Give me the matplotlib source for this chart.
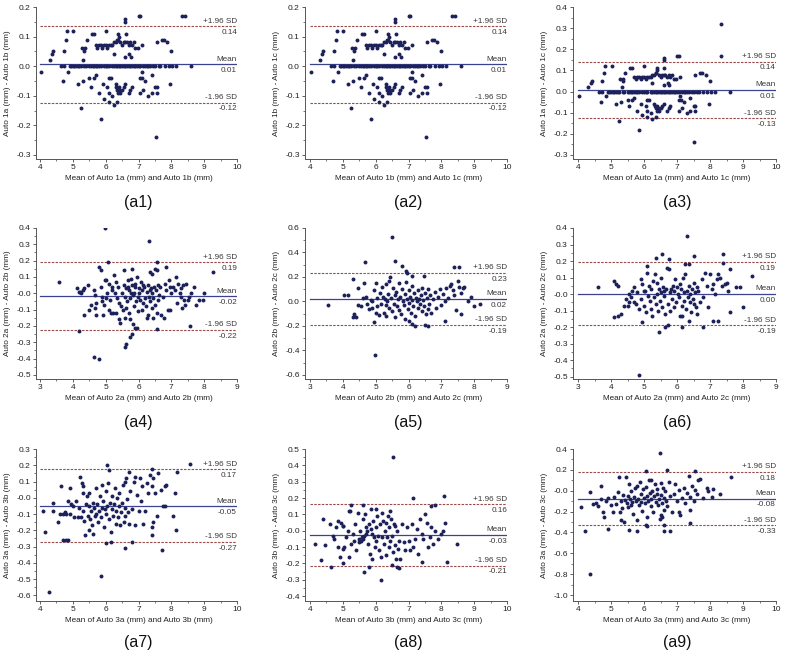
import numpy as np
import matplotlib.pyplot as plt
from matplotlib.ticker import MultipleLocator, AutoMinorLocator, FormatStrFormatter

plt.rcParams['font.family'] = ['Liberation Sans', 'DejaVu Sans']

# ---- data (mean, difference) ----
a1_pts = [
    (7.00, 0.17), (7.05, 0.17), (8.32, 0.17), (8.43, 0.17), (6.60, 0.16), (6.60, 0.15),
    (4.81, 0.12), (5.02, 0.12), (6.00, 0.12), (5.58, 0.11), (5.65, 0.11), (6.39, 0.11),
    (6.62, 0.11), (6.40, 0.10), (4.80, 0.09), (5.42, 0.09), (7.71, 0.09), (7.77, 0.09),
    (6.37, 0.09), (7.56, 0.08), (7.87, 0.08), (7.10, 0.07),
    (5.70, 0.07), (5.75, 0.06), (5.80, 0.07), (5.85, 0.07), (5.90, 0.06), (5.95, 0.07),
    (6.00, 0.07), (6.05, 0.06), (6.10, 0.07), (6.15, 0.07), (6.20, 0.07), (6.25, 0.08),
    (6.30, 0.08), (6.35, 0.09), (6.45, 0.08), (6.50, 0.07), (6.55, 0.08), (6.60, 0.08),
    (6.65, 0.08), (6.70, 0.07), (6.75, 0.08), (6.80, 0.07), (6.85, 0.08), (6.90, 0.06),
    (6.97, 0.06), (5.27, 0.06), (5.35, 0.05), (5.37, 0.06), (4.41, 0.05), (4.74, 0.05),
    (7.99, 0.05), (4.38, 0.04), (6.25, 0.04), (6.72, 0.04), (6.60, 0.03), (6.76, 0.03),
    (4.31, 0.02), (5.32, 0.02),
    (4.65, 0.0), (4.72, 0.0), (4.90, 0.0), (4.95, 0.0), (5.00, 0.0), (5.05, 0.0),
    (5.10, 0.0), (5.15, 0.0), (5.20, 0.0), (5.25, 0.0), (5.35, 0.0), (5.40, 0.0),
    (5.50, 0.0), (5.55, 0.0), (5.60, 0.0), (5.65, 0.0), (5.70, 0.0), (5.75, 0.0),
    (5.80, 0.0), (5.85, 0.0), (5.95, 0.0), (6.00, 0.0), (6.05, 0.0), (6.10, 0.0),
    (6.20, 0.0), (6.25, 0.0), (6.30, 0.0), (6.35, 0.0), (6.40, 0.0), (6.45, 0.0),
    (6.50, 0.0), (6.55, 0.0), (6.60, 0.0), (6.65, 0.0), (6.70, 0.0), (6.75, 0.0),
    (6.80, 0.0), (6.85, 0.0), (6.90, 0.0), (6.95, 0.0), (7.00, 0.0), (7.05, 0.0),
    (7.15, 0.0), (7.20, 0.0), (7.25, 0.0), (7.30, 0.0), (7.35, 0.0), (7.45, 0.0),
    (7.50, 0.0), (7.62, 0.0), (7.67, 0.0), (7.80, 0.0), (7.92, 0.0), (8.02, 0.0),
    (8.15, 0.0), (8.61, 0.0),
    (4.03, -0.02), (4.86, -0.02), (7.10, -0.02), (5.70, -0.03), (5.65, -0.04), (7.40, -0.03),
    (5.50, -0.04), (6.10, -0.04), (6.15, -0.04), (7.05, -0.04), (7.12, -0.04), (4.70, -0.05),
    (5.30, -0.05), (7.20, -0.05), (5.15, -0.06), (7.97, -0.06), (5.92, -0.06), (6.05, -0.07),
    (5.55, -0.07), (6.80, -0.07), (7.50, -0.07), (7.56, -0.07), (7.15, -0.08), (6.75, -0.08),
    (5.80, -0.09), (6.10, -0.09), (7.05, -0.09), (7.40, -0.09), (7.56, -0.09), (6.70, -0.09),
    (6.20, -0.10), (7.30, -0.10), (5.95, -0.11), (6.10, -0.12), (6.35, -0.12), (6.25, -0.13),
    (5.25, -0.14), (5.85, -0.18), (7.52, -0.24),
    (6.30, -0.06), (6.32, -0.07), (6.35, -0.08), (6.38, -0.09), (6.40, -0.07), (6.42, -0.08),
    (6.45, -0.09), (6.50, -0.08), (6.55, -0.07), (6.60, -0.06),
]

a2_pts = list(a1_pts)

a3_pts = [p for p in a1_pts if p != (8.43, 0.17)] + [(8.32, 0.32)]

a4_pts = [
    (3.59, 0.07), (4.98, 0.40), (6.32, 0.32), (4.65, -0.39), (4.80, -0.40), (5.60, -0.33),
    (5.63, -0.31), (5.73, -0.27), (5.80, -0.25), (5.89, -0.21), (5.96, -0.21), (4.20, -0.23),
    (6.55, -0.22), (7.58, -0.20), (5.08, 0.19), (6.57, 0.19), (8.27, 0.13), (4.80, 0.16),
    (4.85, 0.14), (6.35, 0.13), (6.40, 0.12), (6.50, 0.15), (6.55, 0.14), (6.85, 0.16),
    (5.55, 0.14), (5.80, 0.15), (7.15, 0.10),
    (4.12, 0.03), (4.20, 0.01), (4.25, 0.0), (4.30, 0.02), (4.35, 0.03), (4.45, 0.05),
    (4.50, -0.10), (4.55, -0.07), (4.35, -0.13), (4.22, 0.01),
    (4.65, 0.02), (4.67, -0.01), (4.68, -0.09), (4.70, -0.13), (4.72, -0.06), (4.85, 0.04),
    (4.90, -0.02), (4.92, -0.13), (4.95, -0.07), (4.97, 0.08), (5.00, 0.08), (4.88, -0.05),
    (5.02, -0.03), (5.05, 0.0), (5.10, -0.10), (5.12, -0.04), (5.15, -0.12), (5.20, 0.02),
    (5.22, -0.12), (5.25, 0.11), (5.28, 0.0), (5.30, -0.12), (5.32, 0.07), (5.35, -0.03),
    (5.38, 0.04), (5.40, -0.06), (5.42, -0.16), (5.45, -0.18), (5.48, -0.08), (5.50, 0.0),
    (5.52, -0.10), (5.20, 0.04), (5.10, 0.06),
    (5.55, 0.05), (5.58, -0.02), (5.60, -0.15), (5.62, 0.03), (5.65, -0.05), (5.68, 0.08),
    (5.70, -0.12), (5.72, 0.02), (5.75, -0.03), (5.78, 0.09), (5.80, 0.05), (5.82, -0.01),
    (5.85, -0.08), (5.87, 0.0), (5.90, 0.04), (5.92, -0.05), (5.95, 0.10), (5.97, -0.02),
    (6.00, 0.03), (5.63, -0.09), (5.73, -0.16), (5.83, -0.19), (5.88, 0.06), (5.98, -0.11),
    (5.67, 0.04), (5.76, 0.0),
    (6.02, 0.0), (6.05, -0.04), (6.08, 0.07), (6.10, -0.10), (6.12, 0.02), (6.15, -0.06),
    (6.18, 0.04), (6.20, -0.03), (6.22, -0.08), (6.25, 0.01), (6.28, -0.13), (6.30, 0.05),
    (6.32, -0.02), (6.35, -0.05), (6.38, 0.03), (6.40, -0.09), (6.42, 0.0), (6.45, -0.03),
    (6.48, 0.04), (6.50, -0.07), (6.15, 0.05), (6.27, -0.15), (6.43, -0.15), (6.35, 0.02),
    (6.52, 0.02), (6.55, -0.12), (6.58, 0.05), (6.60, -0.04), (6.62, -0.01), (6.65, 0.04),
    (6.70, -0.13), (6.75, -0.02), (6.78, -0.15), (6.80, 0.06), (6.85, 0.02), (6.90, -0.10),
    (6.92, 0.08), (6.95, 0.04), (6.97, -0.10), (7.00, 0.0),
    (7.05, 0.04), (7.10, 0.02), (7.18, -0.06), (7.20, 0.06), (7.25, 0.0), (7.30, -0.02),
    (7.32, -0.09), (7.35, 0.05), (7.40, -0.04), (7.45, 0.06), (7.50, -0.04), (7.55, -0.02),
    (7.60, 0.0), (7.70, 0.04), (7.75, -0.07), (7.85, -0.04), (7.95, -0.04), (8.00, 0.0),
    (7.42, -0.07), (7.28, 0.03),
]

a5_pts = [
    (5.50, 0.53), (4.98, -0.44), (3.55, -0.03), (4.68, 0.32), (5.58, 0.33), (5.79, 0.29),
    (5.93, 0.25), (5.96, 0.23), (7.38, 0.28), (7.53, 0.28), (6.47, 0.21), (6.12, 0.21),
    (8.19, -0.02), (8.00, -0.04), (7.59, -0.10), (7.10, -0.16), (6.10, -0.18), (6.20, -0.20),
    (6.50, -0.19), (6.60, -0.20), (4.95, -0.17), (4.30, -0.13), (4.35, -0.10), (4.40, -0.13),
    (4.05, 0.05), (4.15, 0.05), (4.30, 0.18),
    (4.45, 0.11), (4.65, 0.15), (4.60, 0.03), (4.70, 0.04), (4.75, -0.02), (4.80, -0.06),
    (4.85, 0.01), (4.90, -0.05), (4.95, 0.09), (5.00, 0.15), (5.02, -0.09), (5.05, 0.03),
    (5.10, -0.11), (5.12, 0.07), (5.15, -0.02), (5.20, 0.12), (5.22, 0.04), (5.25, -0.09),
    (5.28, 0.02), (5.30, 0.14), (5.32, -0.12), (5.35, 0.0), (5.38, 0.06), (5.40, 0.17),
    (5.42, -0.05), (5.45, 0.20), (5.48, 0.03), (5.50, -0.08), (5.52, 0.11), (5.55, -0.02),
    (5.58, 0.05), (5.60, -0.13), (5.62, 0.08), (5.65, -0.04), (5.68, 0.02), (5.70, 0.15),
    (5.72, -0.07), (5.75, 0.04), (5.78, -0.10), (5.80, 0.10), (5.82, 0.0), (5.85, -0.03),
    (5.88, 0.06), (5.90, -0.14), (5.92, 0.16), (5.95, 0.02), (5.98, -0.06), (6.00, 0.09),
    (6.02, -0.01), (6.05, 0.04), (6.08, -0.09), (6.10, 0.13), (6.12, 0.01), (6.15, -0.04),
    (6.18, 0.07), (6.20, -0.12), (6.22, 0.03), (6.25, 0.0), (6.28, -0.05), (6.30, 0.09),
    (6.32, 0.02), (6.35, -0.02), (6.38, 0.05), (6.40, -0.08), (6.42, 0.11), (6.45, 0.01),
    (6.48, -0.04), (6.50, 0.07), (6.52, -0.10), (6.55, 0.03), (6.58, -0.06), (6.60, 0.10),
    (6.62, -0.02), (6.65, 0.05), (6.70, -0.09), (6.75, 0.02), (6.80, 0.08), (6.85, -0.05),
    (6.90, 0.04), (6.95, 0.10), (7.00, -0.03), (7.05, 0.06), (7.10, 0.0), (7.15, 0.11),
    (7.20, 0.03), (7.25, 0.13), (7.30, 0.14), (7.35, 0.09), (7.40, 0.05), (7.45, -0.07),
    (7.50, 0.17), (7.55, 0.12), (7.60, 0.07), (7.65, 0.11), (7.70, 0.12), (7.80, 0.0),
    (7.90, 0.04), (5.05, -0.04), (4.90, 0.0), (4.55, -0.04), (4.45, -0.03), (5.30, -0.03),
    (6.00, -0.16),
]

a6_pts = [
    (6.31, 0.35), (4.85, -0.49), (3.60, 0.04), (8.27, 0.11), (7.99, -0.08), (7.60, -0.11),
    (7.10, -0.16), (7.25, -0.16), (6.80, -0.20), (6.15, -0.20), (5.65, -0.20), (5.72, -0.19),
    (5.45, -0.23), (4.93, -0.17), (4.10, -0.14), (4.22, -0.13), (4.30, -0.12), (4.40, -0.07),
    (4.10, 0.08), (4.15, 0.06), (4.22, 0.05), (5.55, 0.24), (5.35, 0.22), (5.75, 0.21),
    (5.10, 0.17), (6.25, 0.18), (6.35, 0.18), (6.50, 0.23), (7.40, 0.24), (7.40, 0.19),
    (7.62, 0.15), (7.80, 0.04), (7.90, 0.04),
    (4.45, -0.03), (4.50, -0.07), (4.55, -0.05), (4.60, -0.02), (4.65, 0.02), (4.70, 0.04),
    (4.75, -0.06), (4.80, 0.01), (4.85, -0.09), (4.90, 0.09), (4.92, -0.03), (4.95, 0.06),
    (5.00, -0.07), (5.02, 0.02), (5.05, -0.11), (5.10, 0.13), (5.12, -0.01), (5.15, 0.05),
    (5.18, -0.04), (5.20, -0.09), (5.22, 0.03), (5.25, -0.13), (5.28, 0.08), (5.30, -0.02),
    (5.32, 0.12), (5.35, -0.06), (5.38, 0.0), (5.40, 0.07), (5.42, -0.10), (5.45, 0.03),
    (5.48, -0.04), (5.50, 0.10), (5.52, 0.01), (5.55, -0.08), (5.58, 0.04), (5.60, -0.01),
    (5.62, 0.02), (5.65, -0.12), (5.68, 0.03), (5.70, 0.16), (5.72, -0.06), (5.75, 0.15),
    (5.78, 0.01), (5.80, -0.10), (5.82, 0.03), (5.85, -0.03), (5.88, 0.05), (5.90, -0.08),
    (5.92, 0.02), (5.95, 0.09), (5.98, -0.05), (6.00, 0.04), (6.02, 0.0), (6.05, -0.02),
    (6.08, 0.06), (6.10, -0.13), (6.12, 0.03), (6.15, -0.07), (6.18, 0.10), (6.20, 0.01),
    (6.22, -0.04), (6.25, 0.12), (6.28, -0.09), (6.30, 0.02), (6.32, -0.02), (6.35, 0.05),
    (6.38, -0.05), (6.40, 0.0), (6.42, -0.11), (6.45, 0.03), (6.48, -0.03), (6.50, 0.07),
    (6.52, -0.06), (6.55, 0.01), (6.58, -0.08), (6.60, 0.04), (6.62, -0.12), (6.65, 0.02),
    (6.70, -0.05), (6.75, 0.09), (6.80, -0.02), (6.85, 0.13), (6.90, 0.05), (6.95, -0.08),
    (7.00, 0.12), (7.05, 0.03), (7.10, 0.06), (7.15, 0.0), (7.20, 0.09), (7.25, 0.12),
    (7.30, 0.10), (7.35, 0.05), (7.45, 0.06), (7.50, 0.07), (7.55, 0.02), (6.35, -0.16),
    (6.15, -0.13), (4.70, -0.05), (5.00, 0.02), (4.55, 0.0),
]

a7_pts = [
    (4.28, -0.58), (5.87, -0.48), (8.58, 0.21), (8.18, 0.16), (7.72, -0.32), (6.58, -0.31),
    (6.00, -0.28), (6.15, -0.27), (6.80, -0.27), (4.70, -0.26), (4.78, -0.26), (4.86, -0.26),
    (4.15, -0.21), (4.55, -0.15), (4.10, -0.08), (4.40, -0.08), (4.40, -0.03), (7.40, -0.23),
    (8.15, -0.20), (8.05, -0.11), (8.10, 0.03), (7.40, 0.18), (6.05, 0.20), (6.10, 0.17),
    (4.65, 0.07),
    (4.60, -0.10), (4.70, -0.10), (4.75, -0.09), (4.80, -0.10), (4.85, -0.02), (4.90, -0.10),
    (4.92, 0.06), (4.95, -0.04), (5.00, -0.05), (5.05, -0.12), (5.10, -0.02), (5.15, -0.12),
    (5.20, -0.06), (5.22, 0.13), (5.25, -0.12), (5.28, 0.09), (5.30, 0.03), (5.32, -0.08),
    (5.35, -0.14), (5.38, -0.23), (5.40, -0.04), (5.42, 0.01), (5.45, -0.11), (5.48, -0.05),
    (5.50, 0.03), (5.52, -0.13), (5.55, -0.08), (5.58, -0.17), (5.60, -0.03), (5.62, -0.22),
    (5.65, -0.06), (5.68, -0.11), (5.70, 0.06), (5.72, -0.10), (5.75, -0.04), (5.78, -0.15),
    (5.80, -0.08), (5.82, 0.01), (5.85, -0.12), (5.88, -0.06), (5.90, 0.08), (5.92, -0.02),
    (5.95, -0.18), (5.98, -0.07), (6.00, 0.04), (6.02, -0.10), (6.05, -0.05), (6.08, 0.09),
    (6.10, -0.13), (6.12, -0.03), (6.15, -0.21), (6.18, -0.07), (6.20, 0.01), (6.22, -0.11),
    (6.25, -0.04), (6.28, 0.06), (6.30, -0.16), (6.32, -0.08), (6.35, 0.0), (6.38, -0.12),
    (6.40, -0.05), (6.42, 0.03), (6.45, -0.17), (6.48, -0.09), (6.50, -0.03), (6.52, 0.08),
    (6.55, -0.15), (6.58, -0.06), (6.60, -0.11), (6.62, 0.12), (6.65, -0.01), (6.68, -0.09),
    (6.70, 0.16), (6.72, -0.16), (6.75, 0.04), (6.80, -0.07), (6.85, 0.10), (6.90, -0.17),
    (6.95, 0.02), (7.00, -0.08), (7.05, 0.12), (7.08, -0.02), (7.10, 0.07), (7.15, -0.16),
    (7.20, -0.08), (7.25, 0.09), (7.30, 0.03), (7.35, 0.14), (7.40, -0.18), (7.42, 0.07),
    (7.45, -0.15), (7.50, 0.03), (7.55, -0.11), (7.60, 0.15), (7.70, 0.05), (7.75, -0.05),
    (7.80, 0.07), (7.85, 0.08), (7.82, -0.05), (5.30, 0.07), (6.60, 0.10), (7.45, 0.12),
    (5.50, -0.20), (6.90, 0.13),
]

a8_pts = [
    (6.53, 0.45), (7.13, 0.20), (8.09, 0.21), (8.48, -0.08), (8.16, -0.19), (6.17, -0.30),
    (5.65, -0.25), (5.81, -0.22), (6.50, -0.21), (6.65, -0.22), (6.72, -0.23), (5.00, -0.20),
    (4.65, -0.22), (4.35, -0.18), (4.15, -0.08), (4.45, -0.09), (4.40, 0.07), (7.40, -0.19),
    (7.70, 0.15), (7.80, 0.16), (5.25, 0.16), (5.60, 0.16), (5.20, 0.12), (5.85, 0.13),
    (4.60, 0.04), (4.70, -0.03), (4.72, -0.05), (4.80, 0.02), (4.85, 0.06), (4.90, -0.16),
    (4.95, 0.05), (5.00, -0.11), (5.02, 0.03), (5.05, -0.10), (5.10, -0.04), (5.15, 0.0),
    (5.20, -0.16), (5.22, 0.12), (5.25, -0.08), (5.30, -0.02), (5.35, -0.06), (5.38, 0.04),
    (5.40, -0.12), (5.45, 0.11), (5.48, -0.05), (5.50, -0.07), (5.52, 0.0), (5.55, -0.06),
    (5.58, -0.04), (5.60, 0.07), (5.62, -0.05), (5.65, -0.03), (5.68, 0.10), (5.70, -0.02),
    (5.72, 0.02), (5.75, 0.0), (5.78, -0.08), (5.80, 0.04), (5.82, -0.14), (5.85, 0.01),
    (5.88, -0.02), (5.90, -0.17), (5.92, 0.06), (5.95, -0.04), (5.98, -0.10), (6.00, 0.02),
    (6.02, -0.06), (6.05, 0.09), (6.08, -0.03), (6.10, -0.12), (6.12, 0.04), (6.15, -0.16),
    (6.18, 0.11), (6.20, -0.04), (6.22, 0.06), (6.25, -0.08), (6.28, 0.0), (6.30, -0.15),
    (6.32, 0.05), (6.35, -0.04), (6.38, 0.09), (6.40, -0.10), (6.42, 0.02), (6.45, -0.06),
    (6.48, 0.07), (6.50, -0.03), (6.52, -0.13), (6.55, 0.04), (6.58, -0.09), (6.60, 0.03),
    (6.62, -0.17), (6.65, 0.0), (6.68, -0.11), (6.70, -0.06), (6.75, -0.17), (6.80, 0.04),
    (6.85, -0.07), (6.90, -0.12), (6.95, 0.02), (7.00, -0.06), (7.05, -0.12), (7.10, 0.04),
    (7.15, -0.10), (7.20, -0.05), (7.25, 0.01), (7.30, -0.14), (7.35, 0.07), (7.40, -0.02),
    (7.45, -0.05), (7.50, 0.10), (7.55, 0.05), (7.60, -0.10), (7.65, -0.04), (7.70, 0.02),
    (7.75, -0.08), (7.80, 0.0), (7.90, -0.05), (8.00, -0.02), (8.05, 0.0), (8.10, 0.05),
    (4.85, -0.10), (5.00, 0.03), (6.00, 0.13), (6.45, 0.12),
]

a9_pts = [
    (4.37, -0.80), (6.47, 0.36), (8.63, 0.13), (4.10, -0.16), (4.22, -0.39), (4.35, -0.01),
    (4.90, -0.37), (5.55, -0.38), (5.80, -0.39), (6.62, -0.39), (6.80, -0.39), (6.05, 0.19),
    (6.70, 0.20), (7.55, 0.19), (6.05, -0.33), (6.60, -0.33), (7.40, -0.31), (6.50, -0.23),
    (6.08, -0.34),
    (4.45, -0.13), (4.55, -0.12), (4.60, -0.15), (4.70, -0.08), (4.70, 0.05), (4.75, -0.20),
    (4.80, -0.25), (4.85, -0.10), (4.90, -0.07), (5.00, -0.14), (5.05, -0.20), (5.10, -0.06),
    (5.15, -0.13), (5.20, -0.01), (5.25, 0.13), (5.28, -0.20), (5.30, -0.10), (5.32, -0.17),
    (5.35, -0.04), (5.40, -0.30), (5.42, -0.09), (5.45, 0.13), (5.48, -0.12), (5.50, -0.05),
    (5.52, -0.16), (5.55, 0.06), (5.58, -0.08), (5.60, -0.14), (5.62, 0.0), (5.65, -0.11),
    (5.68, -0.22), (5.70, -0.06), (5.72, 0.03), (5.75, -0.10), (5.78, -0.28), (5.80, 0.05),
    (5.82, -0.08), (5.85, -0.14), (5.88, 0.08), (5.90, -0.03), (5.92, -0.11), (5.95, -0.19),
    (5.98, 0.02), (6.00, -0.07), (6.02, -0.12), (6.05, 0.04), (6.08, -0.05), (6.10, -0.25),
    (6.12, -0.10), (6.15, 0.10), (6.18, -0.02), (6.20, -0.15), (6.22, -0.08), (6.25, 0.0),
    (6.28, -0.20), (6.30, -0.05), (6.32, 0.06), (6.35, -0.11), (6.38, -0.03), (6.40, 0.02),
    (6.42, -0.14), (6.45, -0.08), (6.48, -0.27), (6.50, 0.07), (6.52, -0.04), (6.55, -0.12),
    (6.58, 0.03), (6.60, -0.18), (6.62, -0.07), (6.65, 0.0), (6.68, -0.10), (6.70, -0.15),
    (6.75, 0.08), (6.80, -0.05), (6.85, -0.20), (6.90, -0.03), (6.95, 0.06), (7.00, -0.10),
    (7.05, 0.01), (7.10, -0.23), (7.15, -0.07), (7.20, 0.03), (7.25, -0.12), (7.30, -0.02),
    (7.35, 0.14), (7.38, -0.18), (7.40, -0.06), (7.45, 0.05), (7.50, -0.10), (7.55, 0.01),
    (7.60, -0.03), (7.65, 0.10), (7.70, 0.11), (7.80, -0.07), (7.90, 0.03), (7.95, 0.0),
    (8.05, -0.06), (8.10, 0.02), (8.30, -0.03), (6.55, -0.25), (5.30, -0.28), (6.20, 0.10),
    (7.05, -0.20),
]

panel_points = [a1_pts, a2_pts, a3_pts, a4_pts, a5_pts, a6_pts, a7_pts, a8_pts, a9_pts]
panel_names = ['(a1)', '(a2)', '(a3)', '(a4)', '(a5)', '(a6)', '(a7)', '(a8)', '(a9)']
pairs = [('1a', '1b'), ('1b', '1c'), ('1a', '1c'),
         ('2a', '2b'), ('2b', '2c'), ('2a', '2c'),
         ('3a', '3b'), ('3b', '3c'), ('3a', '3c')]

# limits of agreement (line positions) and the printed values
upper_loa = [0.135, 0.135, 0.142, 0.189, 0.234, 0.194, 0.174, 0.162, 0.180]
mean_diff = [0.006, 0.006, 0.008, -0.019, 0.022, 0.002, -0.052, -0.027, -0.076]
lower_loa = [-0.123, -0.123, -0.127, -0.224, -0.190, -0.190, -0.272, -0.214, -0.332]
upper_txt = ['0.14', '0.14', '0.14', '0.19', '0.23', '0.19', '0.17', '0.16', '0.18']
mean_txt = ['0.01', '0.01', '0.01', '-0.02', '0.02', '0.00', '-0.05', '-0.03', '-0.08']
lower_txt = ['-0.12', '-0.12', '-0.13', '-0.22', '-0.19', '-0.19', '-0.27', '-0.21', '-0.33']

x_ranges = [(4, 10), (4, 10), (4, 10), (3, 9), (3, 9), (3, 9), (4, 10), (4, 10), (4, 10)]
y_ticks = [(-0.3, 0.2, 0.1), (-0.3, 0.2, 0.1), (-0.3, 0.4, 0.1),
           (-0.5, 0.4, 0.1), (-0.6, 0.6, 0.2), (-0.5, 0.4, 0.1),
           (-0.6, 0.3, 0.1), (-0.4, 0.5, 0.1), (-1.0, 0.4, 0.2)]
y_bottom = [-0.314, -0.314, -0.319, -0.525, -0.633, -0.514, -0.635, -0.43, -1.057]

# ---- layout in pixels ----
W, H = 785, 651
col_px = [(36, 40, 237), (305, 310, 507), (573, 578, 776)]   # spine, x-lo, x-hi
row_px = [(7, 159), (228, 379), (449, 601)]                  # top tick, x axis
xlabel_y = [178, 398, 620]
caption_y = [202, 422, 642]

dot_col = '#1c2159'
mean_col = '#3b4290'
sd_col = '#9b4a4a'
txt_col = '#3a3a3a'
fs = 5.9

fig = plt.figure(figsize=(W / 100, H / 100), dpi=100)

for i, pts in enumerate(panel_points):
    r, c = divmod(i, 3)
    spine, xlo_px, xhi_px = col_px[c]
    top, bot = row_px[r]
    ax = fig.add_axes([spine / W, 1 - bot / H, (xhi_px - spine) / W, (bot - top) / H])

    xlo, xhi = x_ranges[i]
    ppu = (xhi_px - xlo_px) / (xhi - xlo)
    ax.set_xlim(xlo - (xlo_px - spine) / ppu, xhi)
    ylo, yhi, ystep = y_ticks[i]
    ax.set_ylim(y_bottom[i], yhi)

    xs, ys = zip(*pts)
    ax.scatter(xs, ys, s=8, color=dot_col, linewidths=0, zorder=3)

    ax.plot([xlo, xhi], [mean_diff[i]] * 2, color=mean_col, lw=0.9, zorder=2)
    for v in (upper_loa[i], lower_loa[i]):
        ax.plot([xlo, xhi], [v, v], color=sd_col, lw=0.8, ls=(0, (2.2, 1.2)), zorder=2)

    for v, top_lbl, val in ((upper_loa[i], '+1.96 SD', upper_txt[i]),
                            (mean_diff[i], 'Mean', mean_txt[i]),
                            (lower_loa[i], '-1.96 SD', lower_txt[i])):
        ax.annotate(top_lbl, (xhi, v), xytext=(0, 1.2), textcoords='offset points',
                    ha='right', va='bottom', fontsize=fs, color=txt_col)
        ax.annotate(val, (xhi, v), xytext=(0, -2.0), textcoords='offset points',
                    ha='right', va='top', fontsize=fs, color=txt_col)

    ax.set_xticks(np.arange(xlo, xhi + 0.5, 1))
    ax.set_yticks(np.arange(ylo, yhi + ystep / 2, ystep))
    ax.yaxis.set_major_formatter(FormatStrFormatter('%.1f'))
    ax.xaxis.set_major_formatter(FormatStrFormatter('%d'))
    ax.xaxis.set_minor_locator(AutoMinorLocator(2))
    ax.yaxis.set_minor_locator(AutoMinorLocator(2))
    ax.tick_params(which='major', length=2.2, width=0.6, pad=1.5, labelsize=6.0,
                   colors='#444444', labelcolor='#222222')
    ax.tick_params(which='minor', length=1.2, width=0.5, colors='#444444')
    ax.spines['left'].set_bounds(y_bottom[i], yhi)
    for s in ('top', 'right'):
        ax.spines[s].set_visible(False)
    for s in ('left', 'bottom'):
        ax.spines[s].set_linewidth(0.7)
        ax.spines[s].set_color('#555555')
    ax.patch.set_alpha(0)

    a, b = pairs[i]
    ax.set_ylabel(f'Auto {a} (mm) - Auto {b} (mm)', fontsize=fs, color='#222222', labelpad=4)
    cx = (xlo_px + xhi_px) / 2
    fig.text(cx / W, 1 - xlabel_y[r] / H, f'Mean of Auto {a} (mm) and Auto {b} (mm)',
             ha='center', va='center', fontsize=fs, color='#222222')
    fig.text(cx / W, 1 - caption_y[r] / H, panel_names[i],
             ha='center', va='center', fontsize=11.5, color='#111111')

fig.savefig('out.png', dpi=100)
